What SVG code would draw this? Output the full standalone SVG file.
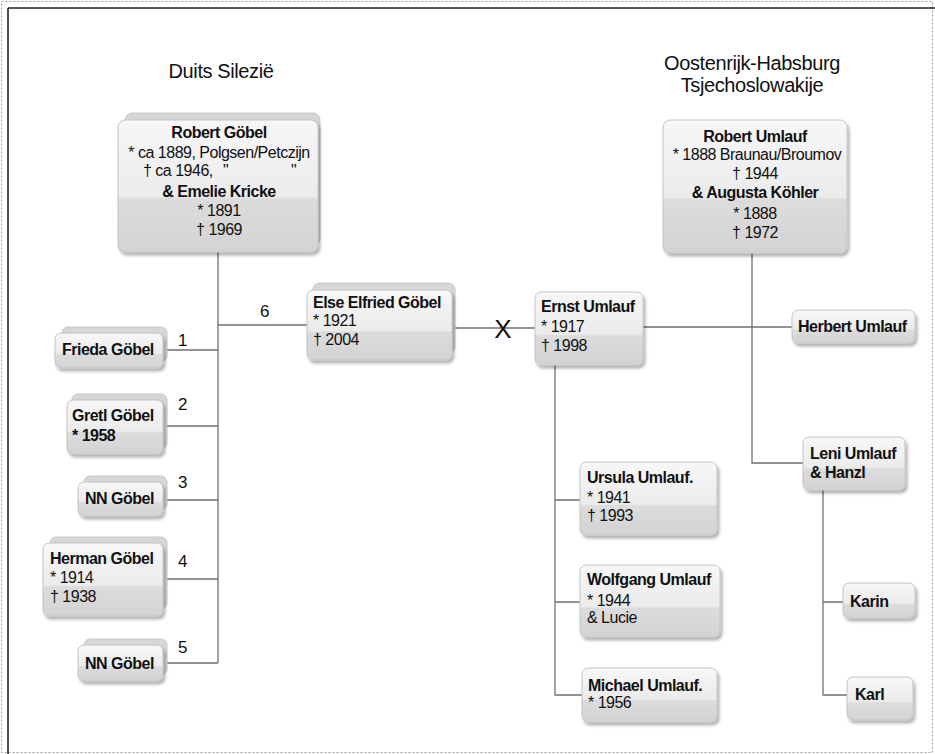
<svg xmlns="http://www.w3.org/2000/svg" width="935" height="754" viewBox="0 0 935 754">
<defs>
<linearGradient id="g" x1="0" y1="0" x2="0" y2="1">
<stop offset="0" stop-color="#f7f7f7"/>
<stop offset="0.58" stop-color="#ebebeb"/>
<stop offset="0.6" stop-color="#dcdcdc"/>
<stop offset="1" stop-color="#d3d3d3"/>
</linearGradient>
<filter id="sh" x="-10%" y="-10%" width="130%" height="140%">
<feDropShadow dx="2" dy="3" stdDeviation="1.6" flood-color="#000" flood-opacity="0.3"/>
</filter>
</defs>
<style>
text{font-family:"Liberation Sans",Arial,sans-serif;fill:#111;}
.t{font-size:16px;letter-spacing:-0.5px;}
.b{font-weight:bold;}
.c{text-anchor:middle;}
.h{font-size:20px;letter-spacing:-0.4px;}
.n{font-size:17px;}
.box{fill:url(#g);stroke:#c4c4c4;stroke-width:1;filter:url(#sh);}
.back{fill:#d6d6d6;stroke:#c8c8c8;stroke-width:1;}
.ln{fill:none;stroke:#707070;stroke-width:1.3;}
</style>
<rect x="0" y="0" width="935" height="754" fill="#fff"/>
<rect x="1.5" y="1.5" width="931" height="751" fill="none" stroke="#9a9a9a" stroke-dasharray="2,2"/>
<path d="M8 8 H935 M8 8 V754" fill="none" stroke="#222" stroke-width="1.6"/>

<text class="h c" x="221" y="78">Duits Silezië</text>
<text class="h c" x="752" y="70">Oostenrijk-Habsburg</text>
<text class="h c" x="752" y="92">Tsjechoslowakije</text>

<g id="connectors">
<path class="ln" d="M218 252 V663 M163 350 H218 M163 426 H218 M163 500 H218 M163 579 H218 M163 663 H218 M218 325 H307"/>
<path class="ln" d="M452 328 H535"/>
<path class="ln" d="M643 327 H792"/>
<path class="ln" d="M752 253 V463 H803"/>
<path class="ln" d="M555 365 V695 H582 M555 500 H580 M555 602 H580"/>
<path class="ln" d="M823 490 V695 H847 M823 602 H843"/>
<text class="n" x="178" y="346">1</text>
<text class="n" x="178" y="410">2</text>
<text class="n" x="178" y="488">3</text>
<text class="n" x="178" y="567">4</text>
<text class="n" x="178" y="653">5</text>
<text class="n" x="260" y="317">6</text>
<text x="503" y="338" style="font-size:26px" class="c">X</text>
</g>

<g id="robert-gobel">
<rect class="back" x="125" y="113" width="195" height="132" rx="7"/>
<rect class="box" x="118" y="120" width="200" height="132" rx="7"/>
<text class="t b c" x="219" y="138">Robert Göbel</text>
<text class="t c" x="219" y="158">* ca 1889, Polgsen/Petczijn</text>
<text class="t" x="143" y="176">† ca 1946,<tspan x="223">"</tspan><tspan x="291">"</tspan></text>
<text class="t b c" x="219" y="197">&amp; Emelie Kricke</text>
<text class="t c" x="219" y="216">* 1891</text>
<text class="t c" x="219" y="235">† 1969</text>
</g>

<g id="robert-umlauf">
<rect class="box" x="663" y="120" width="184" height="133" rx="7"/>
<text class="t b c" x="755" y="142">Robert Umlauf</text>
<text class="t c" x="757" y="160">* 1888 Braunau/Broumov</text>
<text class="t c" x="755" y="179">† 1944</text>
<text class="t b c" x="755" y="198">&amp; Augusta Köhler</text>
<text class="t c" x="755" y="219">* 1888</text>
<text class="t c" x="755" y="238">† 1972</text>
</g>

<g id="frieda">
<rect class="back" x="62" y="327" width="105" height="35" rx="6"/>
<rect class="box" x="55" y="333" width="108" height="35" rx="6"/>
<text class="t b" x="62" y="355">Frieda Göbel</text>
</g>

<g id="gretl">
<rect class="back" x="72" y="394" width="95" height="55" rx="6"/>
<rect class="box" x="67" y="400" width="96" height="54" rx="6"/>
<text class="t b" x="72" y="421">Gretl Göbel</text>
<text class="t b" x="72" y="441">* 1958</text>
</g>

<g id="nn-gobel-3">
<rect class="back" x="84" y="476" width="83" height="34" rx="6"/>
<rect class="box" x="78" y="482" width="85" height="34" rx="6"/>
<text class="t b" x="85" y="504">NN Göbel</text>
</g>

<g id="herman">
<rect class="back" x="50" y="537" width="117" height="72" rx="6"/>
<rect class="box" x="43" y="543" width="120" height="73" rx="6"/>
<text class="t b" x="50" y="564">Herman Göbel</text>
<text class="t" x="50" y="583">* 1914</text>
<text class="t" x="50" y="602">† 1938</text>
</g>

<g id="nn-gobel-5">
<rect class="back" x="84" y="639" width="83" height="36" rx="6"/>
<rect class="box" x="78" y="645" width="85" height="36" rx="6"/>
<text class="t b" x="85" y="669">NN Göbel</text>
</g>

<g id="else">
<rect class="back" x="313" y="283" width="142" height="70" rx="6"/>
<rect class="box" x="307" y="290" width="145" height="70" rx="6"/>
<text class="t b" x="313" y="308">Else Elfried Göbel</text>
<text class="t" x="313" y="326">* 1921</text>
<text class="t" x="313" y="345">† 2004</text>
</g>

<g id="ernst">
<rect class="box" x="535" y="292" width="108" height="73" rx="6"/>
<text class="t b" x="541" y="312">Ernst Umlauf</text>
<text class="t" x="541" y="332">* 1917</text>
<text class="t" x="541" y="351">† 1998</text>
</g>

<g id="herbert">
<rect class="box" x="792" y="310" width="123" height="33" rx="6"/>
<text class="t b" x="798" y="332">Herbert Umlauf</text>
</g>

<g id="leni">
<rect class="box" x="803" y="437" width="102" height="53" rx="6"/>
<text class="t b" x="810" y="459">Leni Umlauf</text>
<text class="t b" x="810" y="478">&amp; Hanzl</text>
</g>

<g id="karin">
<rect class="box" x="843" y="583" width="72" height="35" rx="6"/>
<text class="t b" x="850" y="607">Karin</text>
</g>

<g id="karl">
<rect class="box" x="847" y="677" width="66" height="43" rx="6"/>
<text class="t b" x="855" y="700">Karl</text>
</g>

<g id="ursula">
<rect class="box" x="580" y="462" width="137" height="73" rx="6"/>
<text class="t b" x="587" y="483">Ursula Umlauf.</text>
<text class="t" x="587" y="503">* 1941</text>
<text class="t" x="587" y="521">† 1993</text>
</g>

<g id="wolfgang">
<rect class="box" x="580" y="565" width="140" height="72" rx="6"/>
<text class="t b" x="587" y="585">Wolfgang Umlauf</text>
<text class="t" x="587" y="606">* 1944</text>
<text class="t" x="587" y="623">&amp; Lucie</text>
</g>

<g id="michael">
<rect class="box" x="582" y="668" width="135" height="54" rx="6"/>
<text class="t b" x="588" y="691">Michael Umlauf.</text>
<text class="t" x="588" y="708">* 1956</text>
</g>
</svg>
